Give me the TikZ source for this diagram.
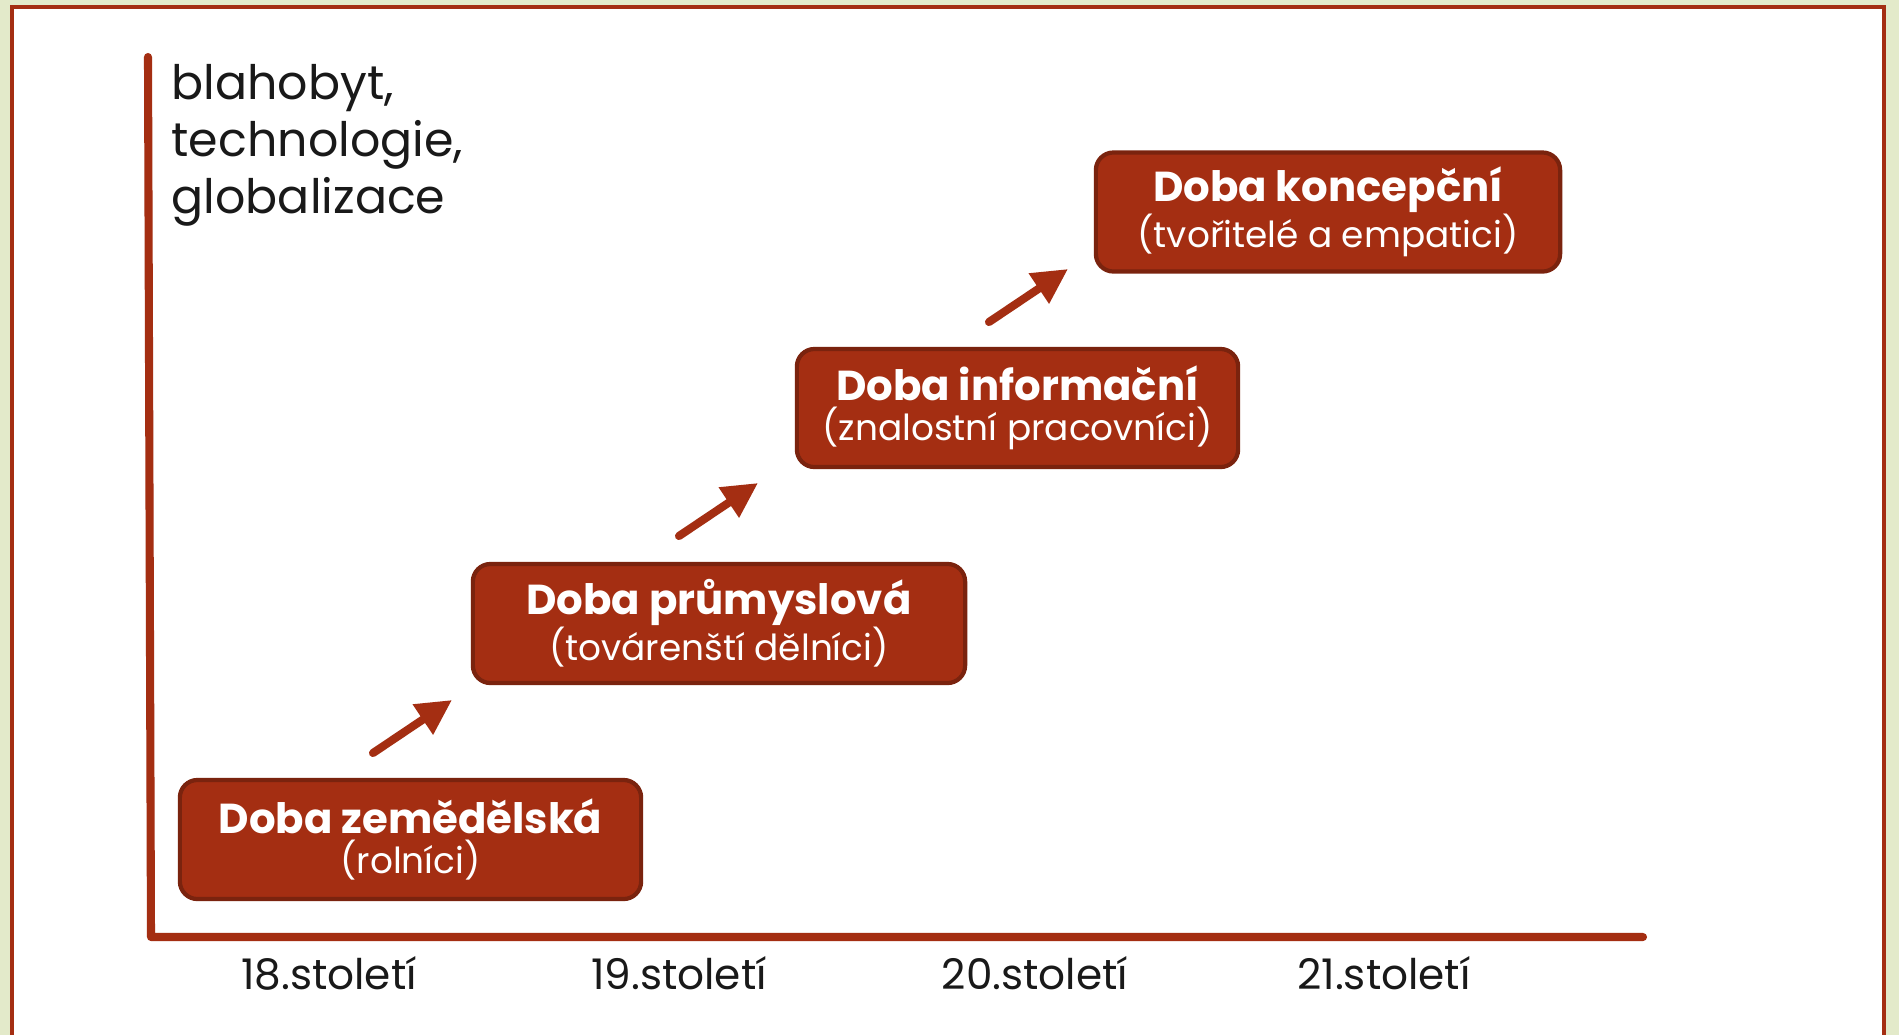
\documentclass[tikz,border=0pt]{standalone}
\usepackage{fontspec}
\setmainfont{Poppins}
\usetikzlibrary{arrows.meta}
\definecolor{rust}{HTML}{A42E12}
\definecolor{rustdark}{HTML}{7A230E}
\definecolor{paleback}{HTML}{E3EACA}
\tikzset{
    era/.style={draw=rustdark, line width=1.2pt, fill=rust, rounded corners=5pt,
        text=white, align=center, inner sep=0pt},
    risearrow/.style={draw=rust, line width=2.3pt, line cap=round,
        -{Triangle[length=10pt, width=9.8pt]}},
    century/.style={font=\fontsize{12}{14}\selectfont, text=black!90}
}
\newcommand{\eratitle}[2]{{\fontsize{11.9}{14}\selectfont\bfseries #1}\\[-0.6pt]{\fontsize{10.2}{12}\selectfont #2}}
\begin{document}
\begin{tikzpicture}[x=0.01cm, y=-0.01cm]
    \useasboundingbox (0,0) rectangle (1899,1035);
    \fill[paleback] (0,0) rectangle (1899,1035);
    \fill[white] (12,7) rectangle (1884,1035);
    \draw[rust, line width=1.1pt] (12,1035) -- (12,7) -- (1884,7) -- (1884,1035);

    \draw[rust, line width=2.3pt, line cap=round, line join=round] (148,57) -- (151,937) -- (1643,937);

    \node[anchor=north west, align=left, font=\fontsize{13.5}{16.2}\selectfont, text=black!90, inner sep=0pt] (yaxis) at (171,64) {blahobyt,\\technologie,\\globalizace};

    \node[century] (c18) at (329,973) {18.století};
    \node[century] (c19) at (679,973) {19.století};
    \node[century] (c20) at (1035,973) {20.století};
    \node[century] (c21) at (1384,973) {21.století};

    \node[era, minimum width=4.61cm, minimum height=1.19cm] (farm) at (410.5,839.5)
        {\eratitle{Doba zemědělská}{(rolníci)}};
    \node[era, minimum width=4.92cm, minimum height=1.19cm] (industry) at (719,623.5)
        {\eratitle{Doba průmyslová}{(továrenští dělníci)}};
    \node[era, minimum width=4.41cm, minimum height=1.18cm] (info) at (1017.5,408)
        {\eratitle{Doba informační}{(znalostní pracovníci)}};
    \node[era, minimum width=4.64cm, minimum height=1.19cm] (concept) at (1328,212)
        {\eratitle{Doba koncepční}{(tvořitelé a empatici)}};

    \coordinate (r1a) at (373,753);
    \coordinate (r1b) at (452,700);
    \coordinate (r2a) at (679,536);
    \coordinate (r2b) at (758,483);
    \coordinate (r3a) at (989,322);
    \coordinate (r3b) at (1068,269);
    \draw[risearrow] (r1a) -- (r1b);
    \draw[risearrow] (r2a) -- (r2b);
    \draw[risearrow] (r3a) -- (r3b);
\end{tikzpicture}
\end{document}
